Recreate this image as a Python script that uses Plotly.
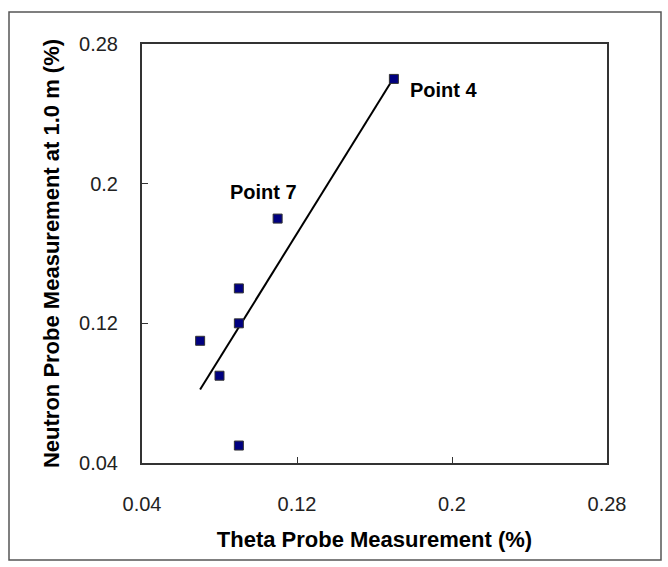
import numpy as np
import plotly.graph_objects as go

# Data
theta = [0.17, 0.11, 0.09, 0.09, 0.07, 0.08, 0.09]
neutron = [0.26, 0.18, 0.14, 0.12, 0.11, 0.09, 0.05]
point_labels = ["Point 4", "Point 7", "", "", "", "", ""]
tick_vals = [0.04, 0.12, 0.2, 0.28]
tick_text = ["0.04", "0.12", "0.2", "0.28"]

# Linear trendline (least squares) across the data range
slope, intercept = np.polyfit(theta, neutron, 1)
tx = [min(theta), max(theta)]
ty = [slope * v + intercept for v in tx]

FONT = "Arial, Liberation Sans, sans-serif"

fig = go.Figure()
fig.add_trace(go.Scatter(
    x=tx, y=ty, mode="lines",
    line=dict(color="black", width=2),
    hoverinfo="skip", showlegend=False,
))
fig.add_trace(go.Scatter(
    x=theta, y=neutron, mode="markers",
    marker=dict(symbol="square", size=9, color="#000080",
                line=dict(color="#333333", width=1)),
    showlegend=False,
))

# Point labels
offsets = {"Point 4": dict(xanchor="left", xshift=14, yshift=-11),
           "Point 7": dict(xanchor="center", xshift=-14, yshift=27)}
for x, y, lab in zip(theta, neutron, point_labels):
    if lab:
        fig.add_annotation(x=x, y=y, text=f"<b>{lab}</b>", showarrow=False,
                           yanchor="middle",
                           font=dict(family=FONT, size=20, color="black"),
                           **offsets[lab])

axis_common = dict(
    range=[0.04, 0.28], tickvals=tick_vals, ticktext=tick_text,
    showgrid=False, zeroline=False,
    showline=True, linecolor="#333333", linewidth=2, mirror=True,
    ticks="inside", ticklen=6, tickwidth=1, tickcolor="#333333",
    tickfont=dict(family=FONT, size=20, color="#222222"),
)

fig.update_xaxes(**axis_common, ticklabelstandoff=22,
                 title=dict(text="<b>Theta Probe Measurement (%)</b>",
                            font=dict(family=FONT, size=22, color="black"),
                            standoff=18))
fig.update_yaxes(**axis_common, ticklabelstandoff=18,
                 title=dict(text="<b>Neutron Probe Measurement at 1.0 m (%)</b>",
                            font=dict(family=FONT, size=22, color="black"),
                            standoff=13))

# Outer chart border
W, H = 668, 567
L, R, T, B = 142, 61, 44, 104
pw, ph = W - L - R, H - T - B
bx0, bx1, by_top, by_bot = 9, 661, 12, 560
fig.add_shape(type="rect", xref="paper", yref="paper",
              x0=(bx0 - L) / pw, x1=(bx1 - L) / pw,
              y0=(H - B - by_bot) / ph, y1=(H - B - by_top) / ph,
              line=dict(color="#555555", width=1.5), layer="below")

fig.update_layout(
    width=W, height=H,
    margin=dict(l=L, r=R, t=T, b=B),
    paper_bgcolor="white", plot_bgcolor="white",
    hovermode=False,
)

fig.write_html("out.html", config={"displayModeBar": False})
